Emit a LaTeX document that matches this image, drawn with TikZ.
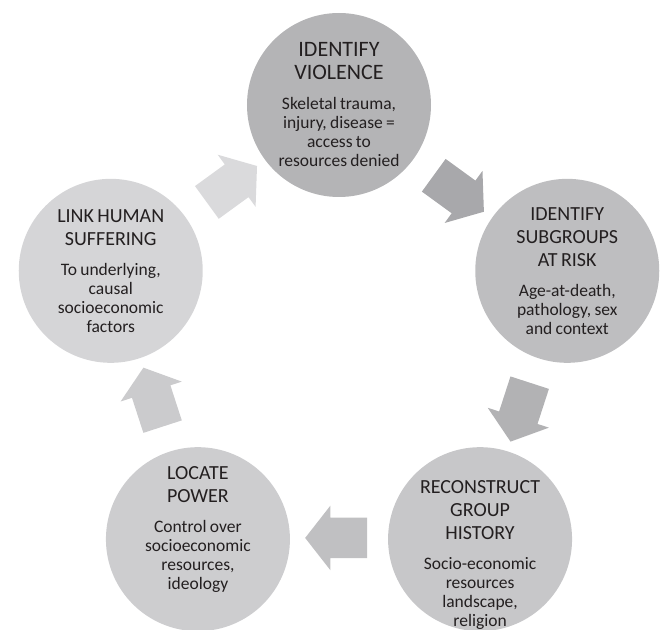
\documentclass[tikz,border=0pt]{standalone}
\usepackage{fontspec}
\setmainfont{Carlito}
\usepackage{tikz}
\usepackage{xcolor}
\usetikzlibrary{
    shapes.arrows,
    positioning
}
\definecolor{inkgray}{RGB}{35,31,32}
\definecolor{circA}{RGB}{180,180,182}
\definecolor{circB}{RGB}{190,190,192}
\definecolor{circC}{RGB}{199,199,201}
\definecolor{circD}{RGB}{205,205,207}
\definecolor{circE}{RGB}{213,213,215}
\definecolor{arrA}{RGB}{168,168,171}
\definecolor{arrB}{RGB}{178,178,180}
\definecolor{arrC}{RGB}{192,192,194}
\definecolor{arrD}{RGB}{203,203,205}
\definecolor{arrE}{RGB}{218,218,220}
\newcommand{\stagetext}[3][20]{{\fontsize{#1}{23}\selectfont #2\par}\vspace{11pt}{\fontsize{17.5}{19}\selectfont #3\par}}
\tikzset{
    stage/.style={circle, minimum size=184pt, inner sep=0pt},
    stagelabel/.style={text width=180pt, align=center, text=inkgray, inner sep=0pt},
    blockarrow/.style={single arrow, minimum height=62pt, minimum width=64pt,
        inner xsep=0pt, inner ysep=20pt,
        single arrow head extend=12pt, single arrow tip angle=104}
}

\begin{document}
\begin{tikzpicture}[x=1pt, y=1pt]
                                \useasboundingbox (-339, -284) rectangle (324, 345);
                                % the five stages
                                \node[stage, fill=circA] (violence) at (90:240) {};
                                \node[stage, fill=circB] (subgroups) at (18:240) {};
                                \node[stage, fill=circC] (history) at (-54:240) {};
                                \node[stage, fill=circD] (power) at (234:240) {};
                                \node[stage, fill=circE] (suffering) at (162:240) {};
                                % arrows between them
                                \node[blockarrow, fill=arrA, rotate=-36] (toSubgroups) at (54:193) {};
                                \node[blockarrow, fill=arrB, rotate=-108] (toHistory) at (-18:193) {};
                                \node[blockarrow, fill=arrC, rotate=180] (toPower) at (-88.5:193) {};
                                \node[blockarrow, fill=arrD, rotate=108] (toSuffering) at (198:193) {};
                                \node[blockarrow, fill=arrE, rotate=36] (toViolence) at (126:193) {};
                                % texts
                                \node[stagelabel] (violenceText) at (violence)
                                {\stagetext[22]{IDENTIFY\\VIOLENCE}{Skeletal trauma,\\injury, disease =\\access to\\resources denied}};
                                \node[stagelabel] (subgroupsText) at (subgroups)
                                {\stagetext{IDENTIFY\\SUBGROUPS\\AT RISK}{Age-at-death,\\pathology, sex\\and context}};
                                \node[stagelabel, yshift=-16] (historyText) at (history)
                                {\stagetext{RECONSTRUCT\\GROUP\\HISTORY}{Socio-economic\\resources\\landscape,\\religion}};
                                \node[stagelabel, yshift=10] (powerText) at (power)
                                {\stagetext{LOCATE\\POWER}{Control over\\socioeconomic\\resources,\\ideology}};
                                \node[stagelabel] (sufferingText) at (suffering)
                                {\stagetext{LINK HUMAN\\SUFFERING}{To underlying,\\causal\\socioeconomic\\factors}};
                            \end{tikzpicture}
\end{document}
